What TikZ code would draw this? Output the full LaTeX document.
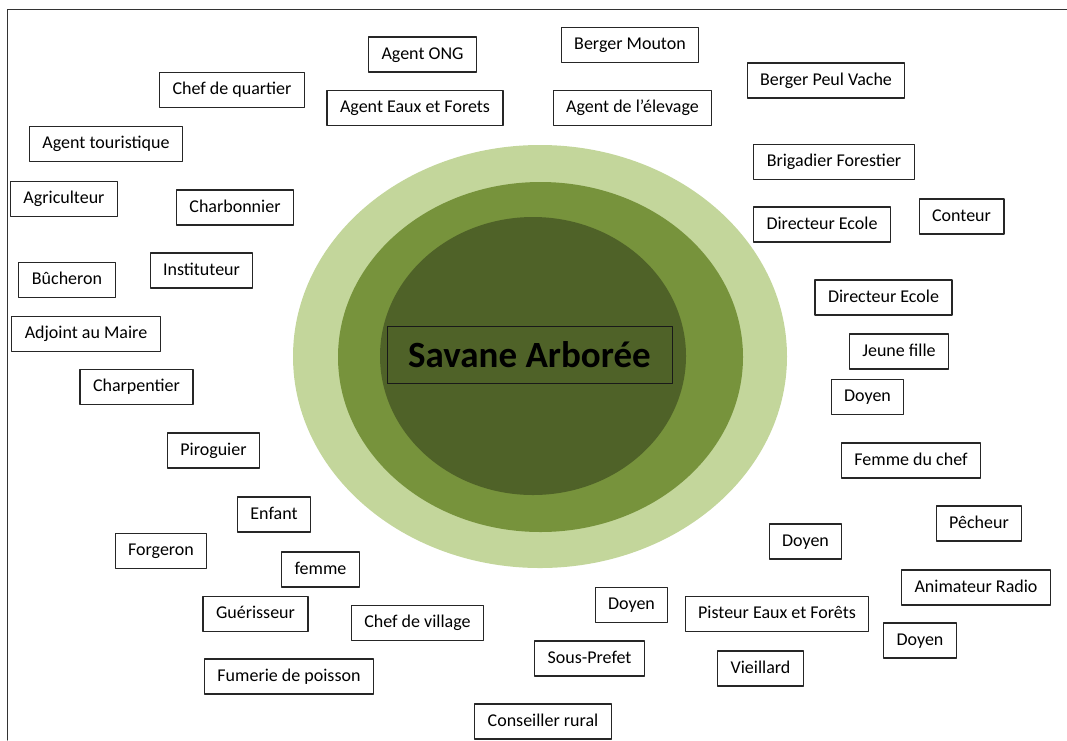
\documentclass[tikz,border=0pt]{standalone}
\usepackage{fontspec}
\setmainfont{Carlito}
\usepackage{tikz}
\definecolor{savlight}{HTML}{C3D69B}
\definecolor{savmid}{HTML}{77933C}
\definecolor{savdark}{HTML}{4F6228}
\tikzset{
  every picture/.style={line join=round, line cap=round},
  actor/.style={draw=black!85, line width=1.1pt, fill=white, font=\fontsize{18}{20}\selectfont,
    inner xsep=13pt, inner ysep=0pt, minimum height=35pt, text height=13pt, text depth=4pt},
  title/.style={draw=black!90, line width=1pt, fill=savdark, font=\fontsize{37}{40}\selectfont\bfseries,
    minimum width=285pt, minimum height=57pt, inner sep=0pt},
}

\begin{document}
\begin{tikzpicture}[x=1pt,y=-1pt]
\useasboundingbox (0,0) rectangle (1067,740);
\draw[line width=1pt,black!80](7,740)--(7,9)--(1067,9);
% savane
\fill[savlight](540,356.5) ellipse[x radius=247,y radius=211.5];
\fill[savmid](540.5,357) ellipse[x radius=202.5,y radius=175];
\fill[savdark](533,356) ellipse[x radius=153,y radius=139];
\node[title] (sav) at (529.5,354.5) {Savane Arborée};
% acteurs a gauche
\node[actor] (ong) at (422.5,54.5) {Agent ONG};
\node[actor] (quartier) at (232,90) {Chef de quartier};
\node[actor] (eaux) at (415,108) {Agent Eaux et Forets};
\node[actor] (tour) at (106,144) {Agent touristique};
\node[actor] (agri) at (64,199) {Agriculteur};
\node[actor] (charb) at (235,207.5) {Charbonnier};
\node[actor] (buch) at (67,280) {Bûcheron};
\node[actor] (instit) at (201.5,270.5) {Instituteur};
\node[actor] (adjoint) at (86,334) {Adjoint au Maire};
\node[actor] (charp) at (136.5,387) {Charpentier};
\node[actor] (pirog) at (213.5,450.5) {Piroguier};
\node[actor] (enfant) at (274,514.5) {Enfant};
\node[actor] (forg) at (161,551) {Forgeron};
\node[actor] (femme) at (320.5,569.5) {femme};
\node[actor] (gueris) at (255.5,614) {Guérisseur};
\node[actor] (village) at (417.5,623) {Chef de village};
\node[actor] (fumerie) at (289,676.5) {Fumerie de poisson};
\node[actor] (conseil) at (543,721.5) {Conseiller rural};
% acteurs a droite
\node[actor] (mouton) at (630,45) {Berger Mouton};
\node[actor] (peul) at (826,80.5) {Berger Peul Vache};
\node[actor] (elev) at (632.5,108) {Agent de l’élevage};
\node[actor] (brig) at (834,162) {Brigadier Forestier};
\node[actor] (dir1) at (822,224.5) {Directeur Ecole};
\node[actor] (conteur) at (961.5,216.5) {Conteur};
\node[actor] (dir2) at (883.5,297.5) {Directeur Ecole};
\node[actor] (jeune) at (899,351.5) {Jeune fille};
\node[actor] (doyen1) at (867.5,397) {Doyen};
\node[actor] (femchef) at (911,460.5) {Femme du chef};
\node[actor] (pecheur) at (979,523.5) {Pêcheur};
\node[actor] (doyen2) at (805.5,541.5) {Doyen};
\node[actor] (radio) at (976,587.5) {Animateur Radio};
\node[actor] (doyen3) at (631.5,605) {Doyen};
\node[actor] (pisteur) at (777,614) {Pisteur Eaux et Forêts};
\node[actor] (doyen4) at (920,640.5) {Doyen};
\node[actor] (sousp) at (589.5,658.5) {Sous-Prefet};
\node[actor] (vieil) at (760.5,668.5) {Vieillard};
\end{tikzpicture}
\end{document}
